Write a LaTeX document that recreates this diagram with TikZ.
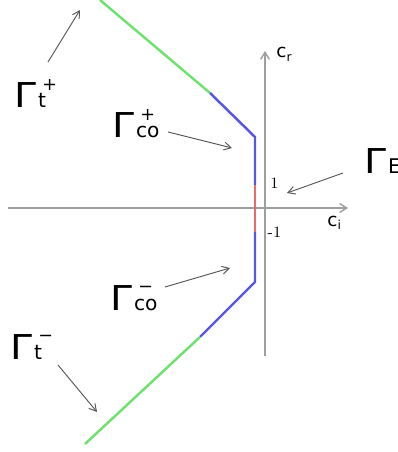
\documentclass[tikz,border=0pt]{standalone}
\usepackage{fontspec}
\newfontfamily\labfont{DejaVu Sans}
\usetikzlibrary{arrows.meta}
\definecolor{tgreen}{RGB}{110,225,110}
\definecolor{cblue}{RGB}{85,85,230}
\definecolor{ered}{RGB}{235,105,105}
% Gamma with a subscript on the baseline and a sign above it
\newcommand{\gam}[2]{{\fontsize{19.5}{20}\selectfont\scalebox{1.15}[1]{Γ}}\kern1pt\makebox[0pt][l]{\kern2.5pt\raisebox{10pt}{\fontsize{10}{10}\selectfont #2}}{\fontsize{11.5}{12}\selectfont #1}}
\begin{document}
\begin{tikzpicture}[x=0.02cm,y=-0.02cm,
  every node/.style={inner sep=0pt,font=\labfont},
  axis/.style={gray!75,line width=0.8pt,-{Straight Barb[length=4pt,width=5pt]}},
  pointer/.style={black!65,line width=0.55pt,-{Straight Barb[length=4pt,width=4.5pt]}},
  branch/.style={line width=1.4pt,line join=round}]
  \useasboundingbox (0,0) rectangle (398,452);
  % axes
  \coordinate (xl) at (8,208); \coordinate (xr) at (348,208);
  \coordinate (yb) at (265,356); \coordinate (yt) at (265,51);
  \draw[axis] (xl) -- (xr); \draw[axis] (yb) -- (yt);
  \node[anchor=base west] (cr) at (276,58) {\fontsize{10.5}{11}\selectfont c\raisebox{-2pt}{\fontsize{7}{7}\selectfont r}};
  \node[anchor=base west] (ci) at (327,226) {\fontsize{10.5}{11}\selectfont c\raisebox{-2pt}{\fontsize{7}{7}\selectfont i}};
  \node[font=\fontsize{9}{9}\selectfont] (one) at (274.5,183) {1};
  \node[font=\fontsize{9}{9}\selectfont] (mone) at (274.5,232) {-1};
  % the contour
  \coordinate (t0) at (100,0); \coordinate (t1) at (210,93);
  \coordinate (c1) at (255,137); \coordinate (e1) at (255,185);
  \coordinate (e2) at (255,232); \coordinate (c2) at (255,282);
  \coordinate (t2) at (200,337); \coordinate (t3) at (85,444);
  \draw[branch,tgreen] (t0) -- (t1);
  \draw[branch,cblue] (t1) -- (c1) -- (e1);
  \draw[branch,ered] (e1) -- (e2);
  \draw[branch,cblue] (e2) -- (c2) -- (t2);
  \draw[branch,tgreen] (t2) -- (t3);
  % labels
  \node[anchor=base west] (gtp) at (14,108) {\gam{t}{+}};
  \node[anchor=base west] (gcop) at (112,138) {\gam{co}{+}};
  \node[anchor=base west] (ge) at (364,174) {\gam{E}{}};
  \node[anchor=base west] (gcom) at (110,310) {\gam{co}{−}};
  \node[anchor=base west] (gtm) at (10,359) {\gam{t}{−}};
  \coordinate (tpa) at (48,62);   \coordinate (tpb) at (80,10);
  \coordinate (copa) at (168,132); \coordinate (copb) at (232,148);
  \coordinate (ea) at (343,173);  \coordinate (eb) at (287,193);
  \coordinate (coma) at (165,287); \coordinate (comb) at (230,268);
  \coordinate (tma) at (58,365);  \coordinate (tmb) at (97,412);
  \draw[pointer] (tpa) -- (tpb);
  \draw[pointer] (copa) -- (copb);
  \draw[pointer] (ea) -- (eb);
  \draw[pointer] (coma) -- (comb);
  \draw[pointer] (tma) -- (tmb);
\end{tikzpicture}
\end{document}
